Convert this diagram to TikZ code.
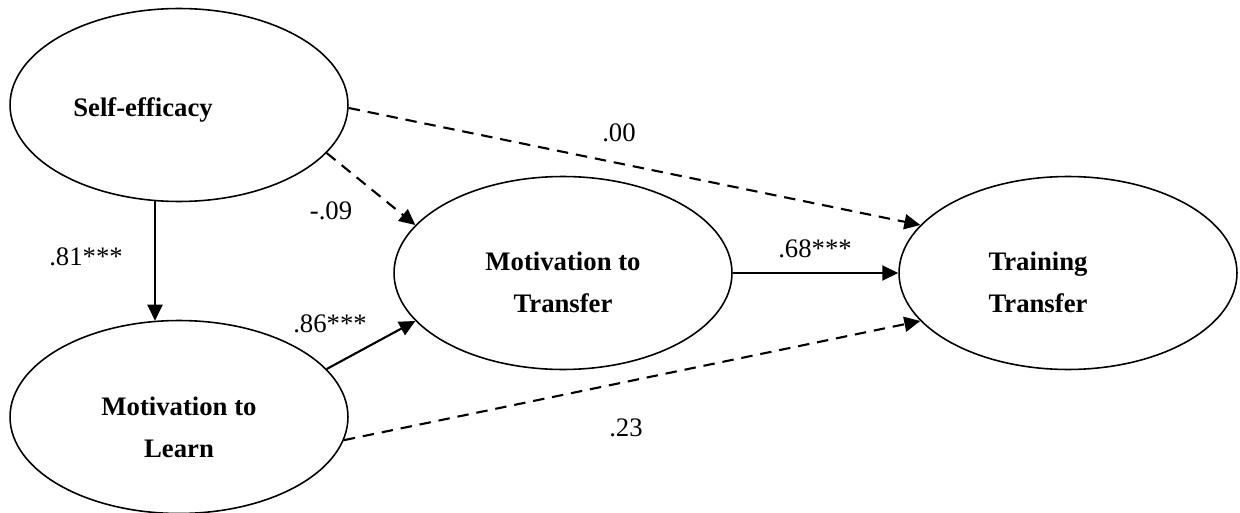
\documentclass[tikz,border=0pt]{standalone}
\usepackage{fontspec}
\setmainfont{Liberation Serif}
\usetikzlibrary{shapes.geometric,arrows.meta}

\begin{document}
\begin{tikzpicture}[x=0.02cm,y=-0.02cm,
  font=\fontsize{15.2}{24}\selectfont,
  latent/.style={draw,ellipse,line width=0.9pt,minimum width=6.76cm,minimum height=3.86cm,inner sep=0pt},
  latname/.style={font=\fontsize{15.2}{24}\selectfont\bfseries,align=center},
  effect/.style={-{Triangle[length=3.2mm,width=3mm]},line width=1.2pt},
  nseffect/.style={effect,dash pattern=on 6.5pt off 4.5pt}]
 \useasboundingbox (0,0) rectangle (1240,513);
 % latent variables
 \node[latent,label={[latname,xshift=-0.72cm,yshift=-0.09cm]center:Self-efficacy}] (self) at (179,105) {};
 \node[latent,label={[latname,yshift=-0.2cm]center:{Motivation to\\Learn}}] (learn) at (179,417) {};
 \node[latent,label={[latname,yshift=-0.19cm]center:{Motivation to\\Transfer}}] (mtt) at (563,273) {};
 \node[latent,label={[latname,xshift=-0.6cm,yshift=-0.19cm]center:{Training\\Transfer}}] (train) at (1068,273) {};
 % paths
 \draw[effect] (self.256) -- (learn.104);
 \draw[nseffect] (self.-18.6) -- (mtt.162);
 \draw[nseffect] (self.-1) -- (train.162);
 \draw[effect] (learn.18.5) -- (mtt.198);
 \draw[nseffect] (learn.-8.5) -- (train.198);
 \draw[effect] (mtt) -- (train);
 % coefficients
 \node (c81) at (86,257) {.81***};
 \node (c09) at (331,211) {-.09};
 \node (c00) at (619,133) {.00};
 \node (c86) at (330,324) {.86***};
 \node (c68) at (815,249) {.68***};
 \node (c23) at (626,428) {.23};
\end{tikzpicture}
\end{document}
